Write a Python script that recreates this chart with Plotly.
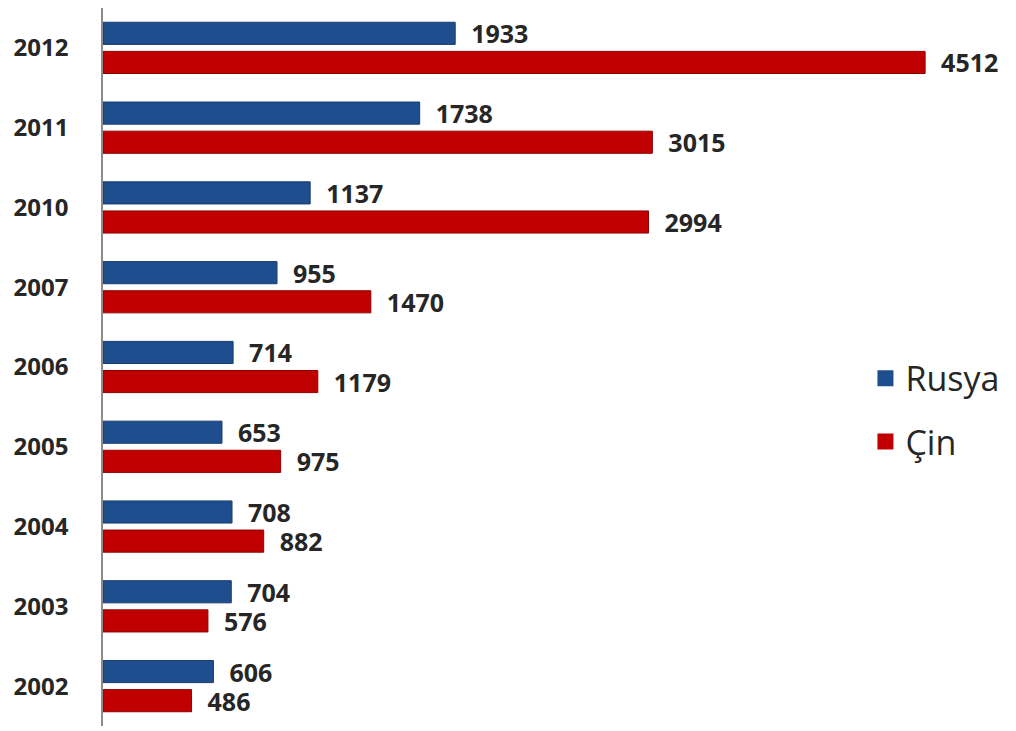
import plotly.graph_objects as go

years = ["2012", "2011", "2010", "2007", "2006", "2005", "2004", "2003", "2002"]
rusya = [1933, 1738, 1137, 955, 714, 653, 708, 704, 606]
cin = [4512, 3015, 2994, 1470, 1179, 975, 882, 576, 486]
series_names = ["Rusya", "Çin"]

BLUE = "#1F4E8F"
RED = "#C00000"
LABEL_FONT = dict(family="Open Sans", size=25, color="#262626", weight=700)
PAD = "\u00a0\u00a0"

fig = go.Figure()
for name, vals, col, edge in [(series_names[0], rusya, BLUE, "#173C6E"),
                              (series_names[1], cin, RED, "#8E0000")]:
    fig.add_trace(go.Bar(
        y=years, x=vals, orientation="h", name=name,
        marker=dict(color=col, line=dict(color=edge, width=1)),
        text=[PAD + str(v) for v in vals], textposition="outside",
        textfont=LABEL_FONT, cliponaxis=False, constraintext="none",
        showlegend=False,
    ))
# legend entries with larger square swatches
for name, col, grp in [(series_names[0], BLUE, "r"), (series_names[1], RED, "c")]:
    fig.add_trace(go.Scatter(
        x=[None], y=[None], mode="markers", name=name,
        marker=dict(symbol="square", size=20, color=col),
        legendgroup=grp, showlegend=True, hoverinfo="skip",
    ))

fig.update_layout(
    width=1016, height=731,
    margin=dict(l=103, r=16, t=8, b=5),
    paper_bgcolor="white", plot_bgcolor="white",
    barmode="group", bargap=0.27, bargroupgap=0.24,
    showlegend=True,
    legend=dict(
        x=0.85, y=0.44, xanchor="left", yanchor="middle",
        font=dict(family="Open Sans", size=34, color="#262626"),
        tracegroupgap=16, bgcolor="rgba(0,0,0,0)", itemwidth=30,
    ),
    xaxis=dict(visible=False, range=[0, 4923]),
    yaxis=dict(
        type="category", categoryorder="array", categoryarray=years,
        autorange="reversed",
        showline=True, linecolor="#8C8C8C", linewidth=1.5,
        ticks="", showgrid=False, zeroline=False,
        ticklabelstandoff=28,
        tickfont=dict(family="Open Sans", size=24, color="#262626", weight=700),
    ),
)

fig.write_html("out.html")
